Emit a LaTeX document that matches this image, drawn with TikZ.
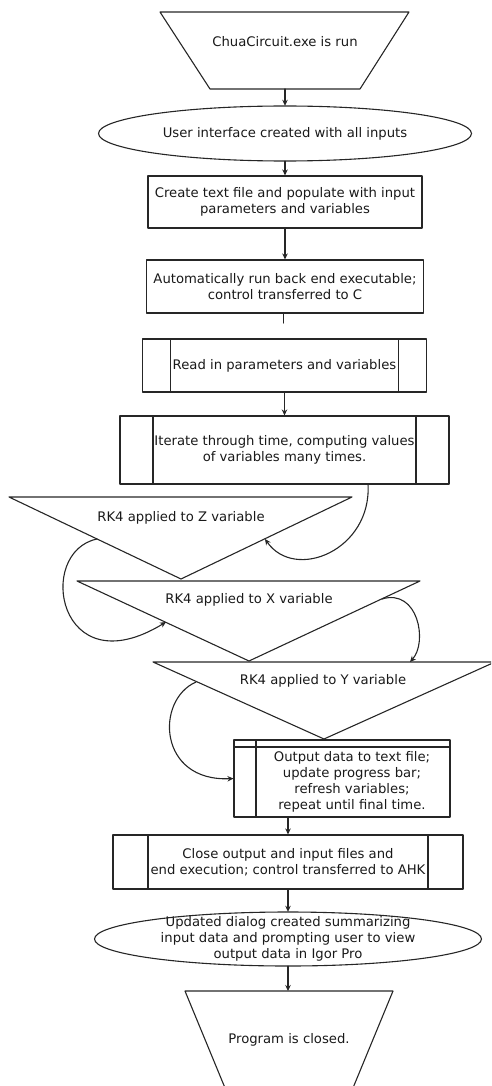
\documentclass[tikz,border=0pt]{standalone}
\usepackage{fontspec}
\setmainfont{DejaVu Sans}
\usetikzlibrary{calc}
\usetikzlibrary{arrows.meta, shapes.geometric}
\usetikzlibrary{positioning}

\begin{document}
\begin{tikzpicture}[
  x=1pt,y=-1pt,
  line cap=round,
  line join=round,
  >={Stealth[length=6pt,width=5.5pt]},
  font=\fontsize{13.2}{16}\selectfont,
  edge/.style={draw=black!85,line width=1.1pt},
  flow/.style={edge,->},
  txt/.style={align=center,inner sep=0pt,text=black!90},
  box/.style={edge,rectangle,align=center,inner sep=0pt,text=black!90},
  proc/.style={box,path picture={
      \draw[edge] ([xshift=#1]path picture bounding box.north west) -- ([xshift=#1]path picture bounding box.south west);
      \draw[edge] ([xshift=-#1]path picture bounding box.north east) -- ([xshift=-#1]path picture bounding box.south east);}},
  proc/.default=30pt,
  store/.style={box,path picture={
      \draw[edge] ([xshift=22pt]path picture bounding box.north west) -- ([xshift=22pt]path picture bounding box.south west);
      \draw[edge] ([yshift=-7pt]path picture bounding box.north west) -- ([yshift=-7pt]path picture bounding box.north east);}}
]
\useasboundingbox (0,0) rectangle (491,1086);
\clip (0,0) rectangle (491,1086);

% Start terminal
\draw[edge] (160,12) -- (409,12) -- (360,89) -- (210,89) -- cycle;
\node[txt] (start) at (285,42) {ChuaCircuit.exe is run};
\coordinate (startB) at (285,89);

% User interface
\node[txt,minimum width=373pt,minimum height=55pt] (ui) at (285,133.5) {User interface created with all inputs};
\draw[edge] (ui.center) ellipse [x radius=186.5pt,y radius=27.5pt];

% Front end steps
\node[box,minimum width=274pt,minimum height=52pt] (create) at (285,202)
  {Create text file and populate with input\\parameters and variables};
\node[box,minimum width=277pt,minimum height=53pt] (auto) at (285,286.5)
  {Automatically run back end executable;\\control transferred to C};
\coordinate (tick) at (283.5,323);

% Back end processes
\node[proc=28pt,minimum width=284pt,minimum height=53pt] (read) at (284.5,365.5)
  {Read in parameters and variables};
\node[proc=33pt,minimum width=329pt,minimum height=68pt] (iter) at (284.5,450)
  {Iterate through time, computing values\\of variables many times.};

% RK4 triangles
\draw[edge] (9,497) -- (352,497) -- (181,579) -- cycle;
\node[txt] (rkz) at (181,518) {RK4 applied to Z variable};
\draw[edge] (77,581) -- (420,581) -- (249,661) -- cycle;
\node[txt] (rkx) at (249,600) {RK4 applied to X variable};
\draw[edge] (153,662) -- (495,662) -- (324,739) -- cycle;
\node[txt] (rky) at (323,681) {RK4 applied to Y variable};

% Output step
\node[store,minimum width=216pt,minimum height=77pt] (out) at (342,778.5) {};
\node[txt] (outtxt) at (352,782)
  {Output data to text file;\\update progress bar;\\refresh variables;\\repeat until final time.};

% Closing steps
\node[proc=35pt,minimum width=350pt,minimum height=54pt] (close) at (288,862)
  {Close output and input files and\\end execution; control transferred to AHK};
\node[txt,minimum width=387pt,minimum height=54pt] (dlg) at (288,939)
  {Updated dialog created summarizing\\input data and prompting user to view\\output data in Igor Pro};
\draw[edge] (dlg.center) ellipse [x radius=193.5pt,y radius=27pt];

% End terminal
\coordinate (endT) at (288,991);
\draw[edge] (185,991) -- (393,991) -- (348,1100) -- (230,1100) -- cycle;
\node[txt] (stop) at (289,1040) {Program is closed.};

% loop points on the triangles
\coordinate (zIn) at (368,484);
\coordinate (zR) at (265,539);
\coordinate (zL) at (97,539);
\coordinate (xL) at (166,622);
\coordinate (xR) at (382,599);
\coordinate (yT) at (410,662);
\coordinate (yL) at (196,682);

% Straight connectors
\draw[flow] (startB) -- (ui.north);
\draw[flow] (ui.south) -- (create.north);
\draw[flow] (create.south) -- (auto.north);
\draw[edge] (auto.south -| tick) -- (tick);
\draw[flow] (read.south) -- (iter.north);
\draw[flow] (close.north |- out.south) -- (close.north);
\draw[flow] (close.south) -- (dlg.north);
\draw[flow] (dlg.south) -- (endT);

% Curved connectors
\draw[flow] (zIn) .. controls (372,550) and (295,582) .. (zR);
\draw[flow] (zL) .. controls (35,552) and (58,688) .. (xL);
\draw[flow] (xR) .. controls (418,588) and (428,642) .. (yT);
\draw[flow] (yL) .. controls (155,700) and (158,782) .. (out.west);

\end{tikzpicture}
\end{document}
